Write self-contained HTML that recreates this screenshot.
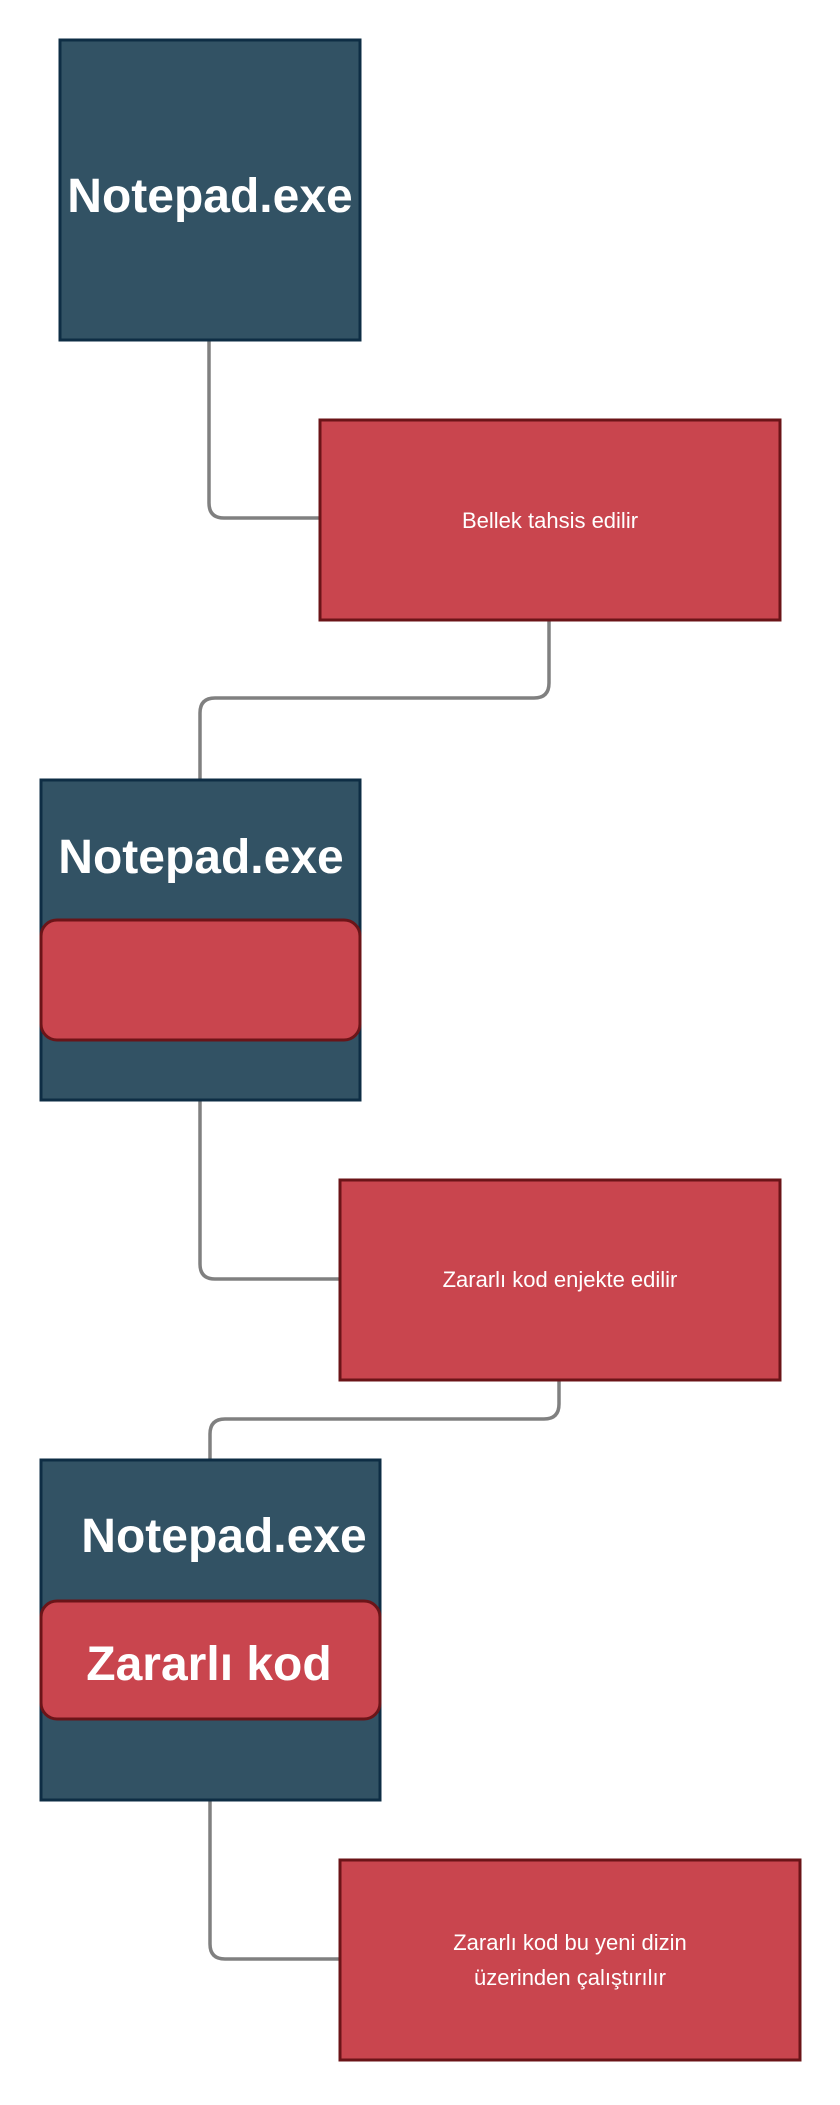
<!DOCTYPE html>
<html><head><meta charset="utf-8"><style>
body{margin:0;background:#fff;}
svg text{font-family:"Liberation Sans",sans-serif;fill:#fff;}
</style></head><body>
<svg width="840" height="2100" viewBox="0 0 840 2100" xmlns="http://www.w3.org/2000/svg">
<g fill="none" stroke="#808080" stroke-width="3.5">
<path d="M209 340 V503 Q209 518 224 518 H320"/>
<path d="M549 620 V683 Q549 698 534 698 H215 Q200 698 200 713 V781"/>
<path d="M200 1100 V1264 Q200 1279 215 1279 H340"/>
<path d="M559 1380 V1404 Q559 1419 544 1419 H225 Q210 1419 210 1434 V1460"/>
<path d="M210 1800 V1944 Q210 1959 225 1959 H340"/>
</g>
<g stroke-width="3">
<rect x="60" y="40" width="300" height="300" fill="#325264" stroke="#0e2d44"/>
<rect x="320" y="420" width="460" height="200" fill="#c9454e" stroke="#6b1418"/>
<rect x="41" y="780" width="319" height="320" fill="#325264" stroke="#0e2d44"/>
<rect x="41" y="920" width="319" height="120" rx="16" fill="#c9454e" stroke="#6b1418"/>
<rect x="340" y="1180" width="440" height="200" fill="#c9454e" stroke="#6b1418"/>
<rect x="41" y="1460" width="339" height="340" fill="#325264" stroke="#0e2d44"/>
<rect x="41" y="1601" width="339" height="118" rx="16" fill="#c9454e" stroke="#6b1418"/>
<rect x="340" y="1860" width="460" height="200" fill="#c9454e" stroke="#6b1418"/>
</g>
<text x="210" y="212" font-size="48" font-weight="bold" text-anchor="middle">Notepad.exe</text>
<text x="550" y="528" font-size="22" text-anchor="middle">Bellek tahsis edilir</text>
<text x="201" y="873" font-size="48" font-weight="bold" text-anchor="middle">Notepad.exe</text>
<text x="560" y="1287" font-size="22" text-anchor="middle">Zararlı kod enjekte edilir</text>
<text x="224" y="1552" font-size="48" font-weight="bold" text-anchor="middle">Notepad.exe</text>
<text x="209" y="1680" font-size="48" font-weight="bold" text-anchor="middle">Zararlı kod</text>
<text x="570" y="1950" font-size="22" text-anchor="middle">Zararlı kod bu yeni dizin</text>
<text x="570" y="1985" font-size="22" text-anchor="middle">üzerinden çalıştırılır</text>
</svg>
</body></html>
